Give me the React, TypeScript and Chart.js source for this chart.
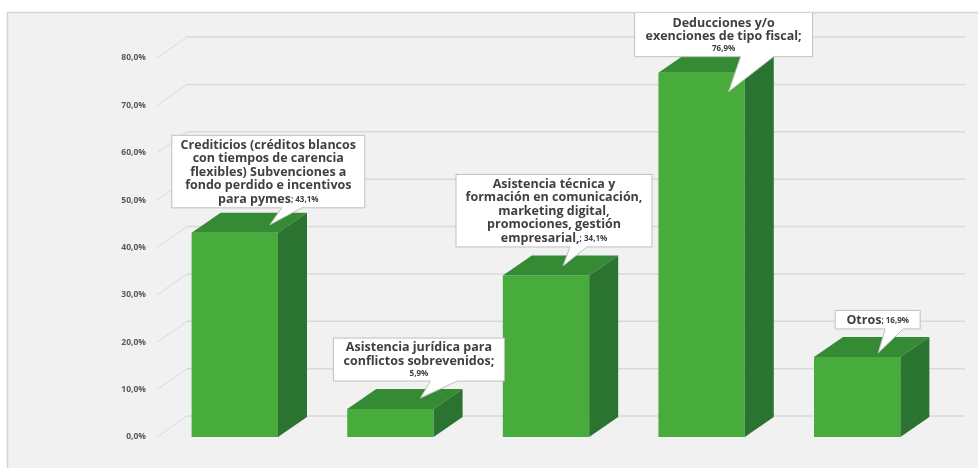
import React, { useEffect, useRef } from "react";
import { Chart, registerables } from "chart.js";

Chart.register(...registerables);

// ---------- data ----------
const categories: string[][] = [
  ["Crediticios (créditos blancos", "con tiempos de carencia", "flexibles) Subvenciones a", "fondo perdido e incentivos", "para pymes"],
  ["Asistencia jurídica para", "conflictos sobrevenidos"],
  ["Asistencia técnica y", "formación en comunicación,", "marketing digital,", "promociones, gestión", "empresarial,"],
  ["Deducciones y/o", "exenciones de tipo fiscal"],
  ["Otros"],
];
const values: number[] = [43.1, 5.9, 34.1, 76.9, 16.9];
const yMin = 0;
const yMax = 80;
const yStep = 10;

// ---------- styling / layout ----------
const FONT = "'Open Sans', Lato, sans-serif";
const FRONT = "#48ac3c";
const TOP = "#358a34";
const SIDE = "#2b7330";
const WALL_DX = 30;
const WALL_DY = 21;
const BAR_DX = 29;
const BAR_DY = 20;

const fmtPct = (v: number) => v.toFixed(1).replace(".", ",") + "%";

type CalloutLayout = {
  tipDx: number; tipDy: number; bx: number; by: number; w: number;
  b0: number; b1: number; valueNewLine: boolean; extraTop: number;
};
const calloutLayout: CalloutLayout[] = [
  { tipDx: 35, tipDy: -8, bx: -1.5, by: 17, w: 193, b0: 12, b1: 32, valueNewLine: false, extraTop: 0 },
  { tipDx: 30, tipDy: -11, bx: -1.5, by: 17, w: 171, b0: 10, b1: 37, valueNewLine: true, extraTop: 0 },
  { tipDx: 17, tipDy: -9.5, bx: -9, by: 19, w: 196, b0: 7, b1: 24, valueNewLine: false, extraTop: 0 },
  { tipDx: 27, tipDy: 19, bx: -5, by: 35, w: 178, b0: 12, b1: 45, valueNewLine: true, extraTop: 6 },
  { tipDx: 21, tipDy: -4, bx: -0.5, by: 24, w: 85, b0: 7, b1: 25, valueNewLine: false, extraTop: 0 },
];

const BIG = `bold 12.5px ${FONT}`;
const SMALL = `bold 8px ${FONT}`;
const BIG_LH = 13.5;
const SMALL_LH = 11;

const fake3d = {
  id: "fake3d",
  beforeDraw(chart: any) {
    const { ctx, width, height } = chart;
    ctx.save();
    ctx.fillStyle = "#ffffff";
    ctx.fillRect(0, 0, width, height);
    ctx.fillStyle = "#f1f1f1";
    ctx.fillRect(7, 12, width - 7, height - 12);
    ctx.strokeStyle = "#d4d4d4";
    ctx.lineWidth = 1.5;
    ctx.beginPath();
    ctx.moveTo(7.5, height);
    ctx.lineTo(7.5, 12.5);
    ctx.lineTo(width, 12.5);
    ctx.stroke();
    ctx.restore();
  },
  beforeDatasetsDraw(chart: any) {
    const { ctx, chartArea: a, scales } = chart;
    const y = scales.y;
    ctx.save();
    for (let v = yMin; v <= yMax; v += yStep) {
      const py = y.getPixelForValue(v);
      ctx.strokeStyle = "#dadada";
      ctx.lineWidth = 1;
      ctx.beginPath();
      ctx.moveTo(a.left, py);
      ctx.lineTo(a.left + WALL_DX, py - WALL_DY);
      ctx.stroke();
      ctx.strokeStyle = "#d9d9d9";
      ctx.lineWidth = 1.5;
      ctx.beginPath();
      ctx.moveTo(a.left + WALL_DX, py - WALL_DY);
      ctx.lineTo(a.right + WALL_DX, py - WALL_DY);
      ctx.stroke();
    }
    ctx.restore();
  },
  afterDatasetsDraw(chart: any) {
    const { ctx } = chart;
    const meta = chart.getDatasetMeta(0);
    ctx.save();
    const bars = meta.data.map((el: any) => el.getProps(["x", "y", "base", "width"], true));
    bars.forEach((b: any) => {
      const x0 = b.x - b.width / 2;
      const x1 = b.x + b.width / 2;
      const top = b.y;
      const bottom = b.base;
      ctx.fillStyle = TOP;
      ctx.beginPath();
      ctx.moveTo(x0, top);
      ctx.lineTo(x1, top);
      ctx.lineTo(x1 + BAR_DX, top - BAR_DY);
      ctx.lineTo(x0 + BAR_DX, top - BAR_DY);
      ctx.closePath();
      ctx.fill();
      ctx.fillStyle = SIDE;
      ctx.beginPath();
      ctx.moveTo(x1, top);
      ctx.lineTo(x1 + BAR_DX, top - BAR_DY);
      ctx.lineTo(x1 + BAR_DX, bottom - BAR_DY);
      ctx.lineTo(x1, bottom);
      ctx.closePath();
      ctx.fill();
    });

    // callouts
    ctx.beginPath();
    ctx.rect(7, 13, chart.width - 7, chart.height - 13);
    ctx.clip();
    bars.forEach((b: any, i: number) => {
      const L = calloutLayout[i];
      const lines: { t: string; small: boolean }[][] = categories[i].map((s) => [{ t: s, small: false }]);
      if (L.valueNewLine) {
        lines[lines.length - 1].push({ t: ";", small: false });
        lines.push([{ t: fmtPct(values[i]), small: true }]);
      } else {
        lines[lines.length - 1].push({ t: "; " + fmtPct(values[i]), small: true });
      }
      const lh = (ln: { small: boolean }[]) => (ln.every((s) => s.small) ? SMALL_LH : BIG_LH);
      const textH = lines.reduce((acc, ln) => acc + lh(ln), 0);
      const h = 3 + textH + 2 + L.extraTop;
      const tipX = b.x + L.tipDx;
      const tipY = b.y + L.tipDy;
      const cx = tipX + L.bx;
      const yb = tipY - L.by;
      const yt = yb - h;
      const x0 = cx - L.w / 2;
      const x1 = cx + L.w / 2;
      ctx.beginPath();
      ctx.moveTo(x0, yt);
      ctx.lineTo(x1, yt);
      ctx.lineTo(x1, yb);
      ctx.lineTo(tipX + L.b1, yb);
      ctx.lineTo(tipX, tipY);
      ctx.lineTo(tipX + L.b0, yb);
      ctx.lineTo(x0, yb);
      ctx.closePath();
      ctx.fillStyle = "#ffffff";
      ctx.fill();
      ctx.strokeStyle = "#bfbfbf";
      ctx.lineWidth = 1;
      ctx.stroke();

      ctx.fillStyle = "#404040";
      ctx.textBaseline = "middle";
      ctx.textAlign = "left";
      let yy = yb - 2 - textH;
      lines.forEach((ln) => {
        const h2 = lh(ln);
        const widths = ln.map((s) => {
          ctx.font = s.small ? SMALL : BIG;
          return ctx.measureText(s.t).width;
        });
        const total = widths.reduce((a2, c) => a2 + c, 0);
        let xx = cx - total / 2;
        const midY = yy + h2 / 2;
        ln.forEach((s, k) => {
          ctx.font = s.small ? SMALL : BIG;
          ctx.fillText(s.t, xx, midY + (s.small && !ln.every((q) => q.small) ? 1 : 0));
          xx += widths[k];
        });
        yy += h2;
      });
    });
    ctx.restore();
  },
};

export default function App() {
  const ref = useRef<HTMLCanvasElement | null>(null);
  useEffect(() => {
    if (!ref.current) return;
    const chart = new Chart(ref.current, {
      type: "bar",
      data: {
        labels: categories as any,
        datasets: [
          {
            data: values,
            backgroundColor: FRONT,
            borderWidth: 0,
            categoryPercentage: 1,
            barPercentage: 0.555,
          },
        ],
      },
      options: {
        animation: false,
        responsive: true,
        maintainAspectRatio: false,
        layout: { padding: { left: 0, top: 58, right: 43, bottom: 31 } },
        plugins: { legend: { display: false }, tooltip: { enabled: false } },
        scales: {
          x: { display: false },
          y: {
            min: yMin,
            max: yMax,
            afterFit: (s: any) => {
              s.width = 157;
            },
            grid: { display: false, drawTicks: false },
            border: { display: false },
            ticks: {
              stepSize: yStep,
              padding: 11,
              color: "#595959",
              font: { family: FONT, size: 8.5, weight: "bold" },
              callback: (v: any) => fmtPct(Number(v)),
            },
          },
        },
      },
      plugins: [fake3d],
    });
    return () => chart.destroy();
  }, []);
  return (
    <div style={{ position: "fixed", left: 0, top: 0, width: 978, height: 468 }}>
      <canvas ref={ref} />
    </div>
  );
}
